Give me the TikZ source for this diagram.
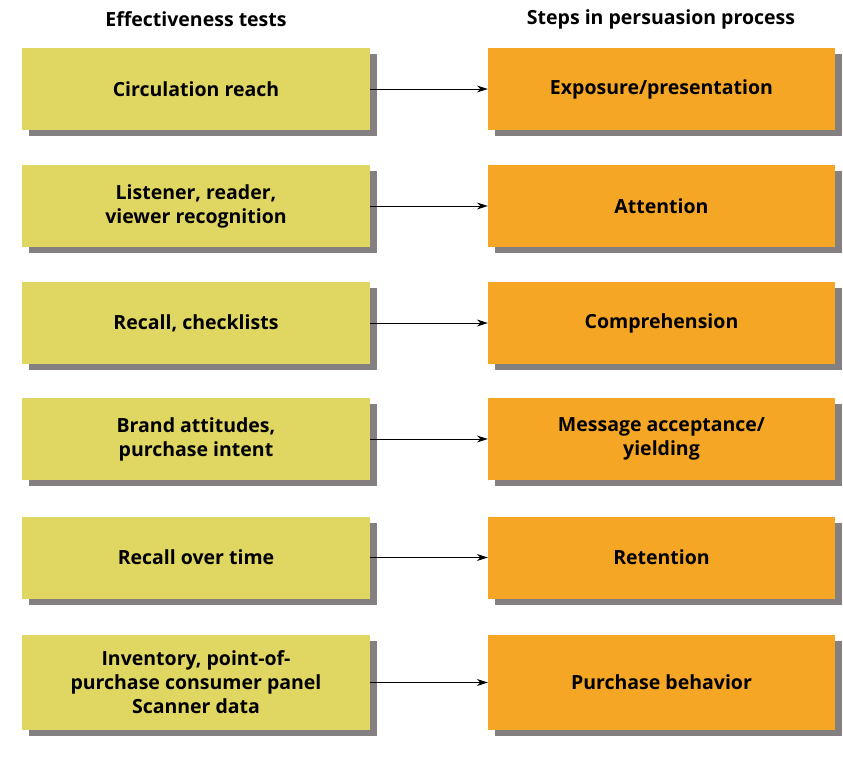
\documentclass[tikz,border=0pt]{standalone}
\usepackage{fontspec}
\setmainfont{Open Sans}
\usetikzlibrary{shadows,arrows.meta}
\definecolor{testfill}{RGB}{224,214,98}
\definecolor{stepfill}{RGB}{245,166,36}
\definecolor{shadowcol}{RGB}{80,74,76}
\tikzset{
  box/.style={minimum width=348pt,minimum height=82pt,align=center,inner sep=2pt,
    font=\bfseries\fontsize{19.5}{24}\selectfont,
    drop shadow={shadow xshift=7pt,shadow yshift=-6pt,fill=shadowcol,opacity=0.7}},
  testbox/.style={box,fill=testfill},
  stepbox/.style={box,fill=stepfill,minimum width=347pt},
  head/.style={font=\bfseries\fontsize{19.5}{24}\selectfont,inner sep=1pt},
  link/.style={-{Stealth[length=11pt,width=7pt]},line width=0.8pt}
}
\begin{document}
\begin{tikzpicture}[x=1pt,y=-1pt]
\useasboundingbox (0,0) rectangle (843,762);
\node[head] (h1) at (196,19) {Effectiveness tests};
\node[head] (h2) at (661,19) {Steps in persuasion process};
% left column
\node[testbox] (t1) at (196,89) {Circulation reach};
\node[testbox] (t2) at (196,206) {Listener, reader,\\viewer recognition};
\node[testbox] (t3) at (196,323) {Recall, checklists};
\node[testbox] (t4) at (196,439) {Brand attitudes,\\purchase intent};
\node[testbox] (t5) at (196,557.5) {Recall over time};
\node[testbox,minimum height=95pt] (t6) at (196,682.5) {Inventory, point-of-\\purchase consumer panel\\Scanner data};
% right column
\node[stepbox] (s1) at (661.5,89) {Exposure/presentation};
\node[stepbox] (s2) at (661.5,206) {Attention};
\node[stepbox] (s3) at (661.5,323) {Comprehension};
\node[stepbox] (s4) at (661.5,439) {Message acceptance/\\yielding};
\node[stepbox] (s5) at (661.5,557.5) {Retention};
\node[stepbox,minimum height=95pt] (s6) at (661.5,682.5) {Purchase behavior};
% arrows
\foreach \i in {1,...,6}
  \draw[link] (t\i) -- (s\i);
\end{tikzpicture}
\end{document}
